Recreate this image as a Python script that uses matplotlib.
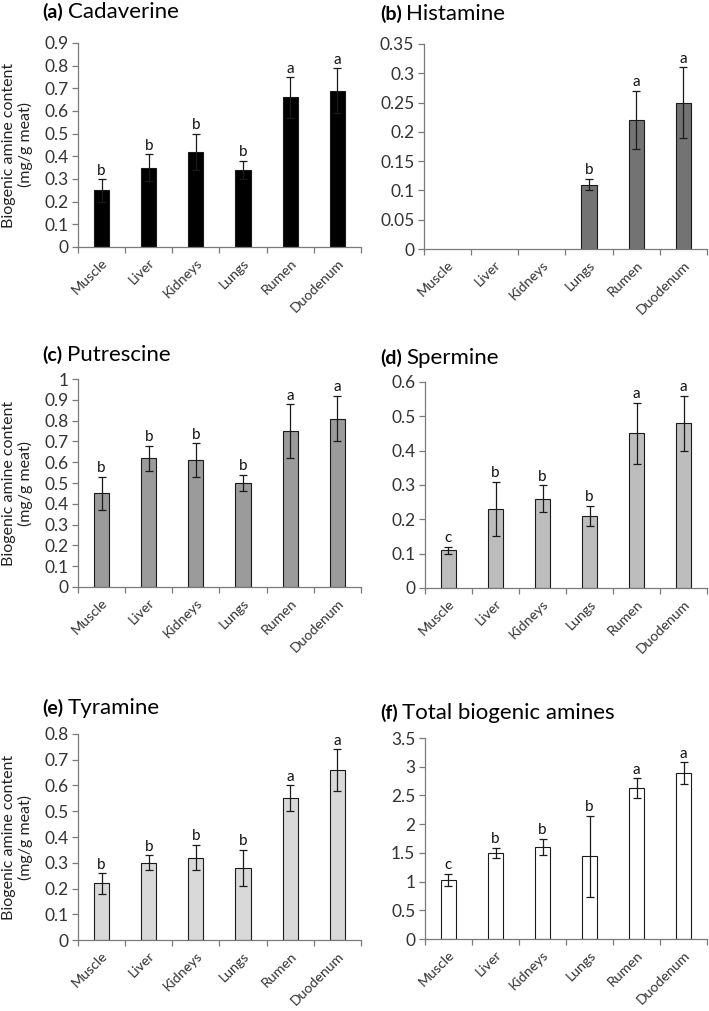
import numpy as np
import matplotlib
matplotlib.use('Agg')
import matplotlib.pyplot as plt

plt.rcParams['font.family'] = ['Lato', 'DejaVu Sans']

tissues = ['Muscle', 'Liver', 'Kidneys', 'Lungs', 'Rumen', 'Duodenum']

# mean values and standard deviations (mg/g meat)
cadaverine = [0.25, 0.35, 0.42, 0.34, 0.66, 0.69]
cadaverine_sd = [0.05, 0.06, 0.08, 0.04, 0.09, 0.10]
cadaverine_grp = ['b', 'b', 'b', 'b', 'a', 'a']

histamine = [0, 0, 0, 0.11, 0.22, 0.25]
histamine_sd = [0, 0, 0, 0.01, 0.05, 0.06]
histamine_grp = ['', '', '', 'b', 'a', 'a']

putrescine = [0.45, 0.62, 0.61, 0.50, 0.75, 0.81]
putrescine_sd = [0.08, 0.06, 0.08, 0.04, 0.13, 0.11]
putrescine_grp = ['b', 'b', 'b', 'b', 'a', 'a']

spermine = [0.11, 0.23, 0.26, 0.21, 0.45, 0.48]
spermine_sd = [0.01, 0.08, 0.04, 0.03, 0.09, 0.08]
spermine_grp = ['c', 'b', 'b', 'b', 'a', 'a']

tyramine = [0.22, 0.30, 0.32, 0.28, 0.55, 0.66]
tyramine_sd = [0.04, 0.03, 0.05, 0.07, 0.05, 0.08]
tyramine_grp = ['b', 'b', 'b', 'b', 'a', 'a']

total = [1.03, 1.50, 1.61, 1.44, 2.63, 2.89]
total_sd = [0.11, 0.09, 0.14, 0.71, 0.17, 0.19]
total_grp = ['c', 'b', 'b', 'b', 'a', 'a']

panels = [
    ('(a)', 'Cadaverine', cadaverine, cadaverine_sd, cadaverine_grp, '#000000', 0.9, 0.1, '{:.1f}'),
    ('(b)', 'Histamine', histamine, histamine_sd, histamine_grp, '#737373', 0.35, 0.05, '{:g}'),
    ('(c)', 'Putrescine', putrescine, putrescine_sd, putrescine_grp, '#9b9b9b', 1.0, 0.1, '{:g}'),
    ('(d)', 'Spermine', spermine, spermine_sd, spermine_grp, '#bdbdbd', 0.6, 0.1, '{:.1f}'),
    ('(e)', 'Tyramine', tyramine, tyramine_sd, tyramine_grp, '#d9d9d9', 0.8, 0.1, '{:.1f}'),
    ('(f)', 'Total biogenic amines', total, total_sd, total_grp, '#ffffff', 3.5, 0.5, '{:g}'),
]

# axes boxes in figure fractions [left, bottom, width, height]
boxes = [
    [0.110, 0.7557, 0.399, 0.2018],
    [0.598, 0.7537, 0.399, 0.2028],
    [0.110, 0.4194, 0.399, 0.2057],
    [0.5994, 0.4184, 0.398, 0.2038],
    [0.110, 0.0702, 0.399, 0.2038],
    [0.5994, 0.0712, 0.398, 0.1988],
]
title_pos = [(0.060, 0.988), (0.536, 0.986), (0.060, 0.649), (0.536, 0.646), (0.060, 0.300), (0.536, 0.295)]

axis_col = '#7a7a7a'
text_col = '#333333'

fig = plt.figure(figsize=(7.09, 10.11), dpi=100)
x = np.arange(len(tissues))

for i, (tag, name, vals, sds, grp, col, ymax, step, fmt) in enumerate(panels):
    ax = fig.add_axes(boxes[i])
    vals = np.array(vals)
    sds = np.array(sds)
    show = vals > 0
    ax.bar(x[show], vals[show], width=0.32, color=col, edgecolor='#1a1a1a', linewidth=0.8, zorder=2)
    ax.errorbar(x[show], vals[show], yerr=sds[show], fmt='none', ecolor='#1a1a1a',
                elinewidth=0.9, capsize=2.8, capthick=0.9, zorder=3)
    for xi, v, s, g in zip(x, vals, sds, grp):
        if g:
            ax.annotate(g, (xi, v + s), xytext=(0, 1.0), textcoords='offset points',
                        ha='center', va='bottom', fontsize=11, color='#111111')

    ax.set_xlim(-0.5, 5.5)
    ax.set_ylim(0, ymax)
    ticks = np.arange(0, ymax + step / 2, step)
    ax.set_yticks(ticks)
    ax.set_yticklabels([fmt.format(t) if t > 0 else '0' for t in ticks])
    ax.set_xticks(np.arange(-0.5, 6, 1))
    ax.set_xticklabels([])
    ax.set_xticks(x, minor=True)
    ax.set_xticklabels(tissues, minor=True, rotation=45, ha='right', va='top',
                       rotation_mode='anchor')
    ax.tick_params(axis='x', which='minor', length=0, pad=7, labelsize=10.2, labelcolor=text_col)
    ax.tick_params(axis='x', which='major', length=4, width=0.9, color=axis_col)
    ax.tick_params(axis='y', length=4, width=0.9, color=axis_col, labelsize=12.5,
                   labelcolor=text_col, pad=3)
    for sp in ['top', 'right']:
        ax.spines[sp].set_visible(False)
    for sp in ['left', 'bottom']:
        ax.spines[sp].set_color(axis_col)
        ax.spines[sp].set_linewidth(0.9)

    if i % 2 == 0:
        ax.set_ylabel('Biogenic amine content\n(mg/g meat)', fontsize=11.5, color='#222222',
                      linespacing=1.1)
        ax.yaxis.set_label_coords(-0.16, 0.5)

    tx, ty = title_pos[i]
    t1 = fig.text(tx, ty, tag, fontsize=14, fontweight='bold', ha='left', va='center')
    fig.canvas.draw()
    bb = t1.get_window_extent().transformed(fig.transFigure.inverted())
    fig.text(bb.x1 + 0.006, ty, name, fontsize=16, ha='left', va='center')

fig.savefig('out.png', dpi=100)
